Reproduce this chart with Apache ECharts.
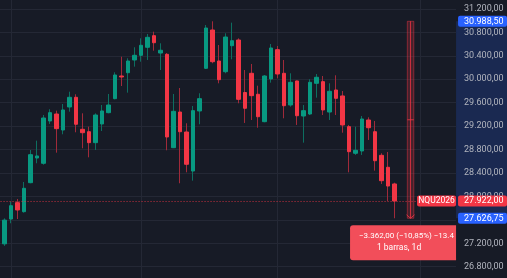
<!DOCTYPE html>
<html><head><meta charset="utf-8">
<script src="https://cdn.jsdelivr.net/npm/echarts@6/dist/echarts.min.js"></script>
<style>html,body{margin:0;padding:0;background:#171B26;}#c{width:507px;height:278px;}</style>
</head><body><div id="c"></div>
<script>
// ---- data (daily candles, NQU2026) ----
const opens  = [27190,27190,27614,27893,27739,28234,28655,28565,29287,29406,29133,29526,29691,29145,29104,28917,29236,29429,29668,30055,30111,30328,30408,30545,30743,30447,30425,28831,29440,29099,28433,29458,30186,30840,30311,30128,30572,30669,29773,30101,29743,29275,30004,30504,30101,29560,29970,29372,29406,29930,29958,29440,29816,29714,29190,28736,28775,29304,29104,28701,28497,28212];
const closes = [27325,27595,27841,27768,28138,28712,28690,29338,29429,29156,29475,29691,29231,29087,28917,29389,29458,29560,30072,30038,30311,30408,30579,30715,30623,30494,29014,29452,29104,28548,29463,29668,30874,30299,29992,30720,30657,29657,29504,29719,29360,30055,30533,30089,29548,29947,29377,29463,29947,30033,29475,29794,29674,29219,28763,28787,29321,29172,28609,28268,28177,27922];
const lows   = [27150,27155,27541,27614,27722,28224,28565,28541,29236,28746,29060,29446,29094,28821,28667,28792,29116,29418,29657,29884,29770,30214,30299,30328,30487,30157,28787,28825,28224,28411,28268,29231,30174,30272,29930,30101,30340,29589,29253,29304,29172,29265,29941,30016,29333,29531,29219,28917,29389,29685,29389,29304,29389,29087,28411,28707,28707,28963,28439,28212,27921,27626.75];
const highs  = [27360,27625,27910,27956,28246,28792,28951,29389,29487,29463,29577,29787,29743,29418,29190,29418,29560,29748,30118,30384,30357,30545,30698,30772,30811,30613,30447,29748,29850,29248,29543,29760,30925,30988.5,30584,30784,30965,30698,30157,30260,29889,30072,30601,30567,30328,30101,29975,29560,29999,30089,30055,29930,30067,29799,29219,29190,29372,29350,29287,28736,28758,28234];
const totalSlots = 71;                 // category slots incl. empty future space
const monthLineIdx = [2, 22, 43, 65];  // vertical grid lines (month starts)
const yMin = 26400, yMax = 31600, yStep = 400;
const symbolName = 'NQU2026';
const lastPrice = 27922;
const rangeTop = 30988.5, rangeBottom = 27626.75;
const rangeFromIdx = 63, rangeToIdx = 64;
const rangeLine1 = '\u22123.362,00 (\u221210,85%) \u221213.448';
const rangeLine2 = '1 barras, 1d';

// ---- styles ----
const UP = '#089981', DOWN = '#F23645', UPW = '#0d6e60', DOWNW = '#a02a3a';
const BG = '#171B26', GRID = '#242835', TXT = '#B2B5BE', BLUE = '#2962FF';
const FONT = 'Roboto';

function fmt(v){
  const s = Math.abs(v).toFixed(2).split('.');
  const ip = s[0].replace(/\B(?=(\d{3})+(?!\d))/g, '.');
  return (v < 0 ? '\u2212' : '') + ip + ',' + s[1];
}

const cats = Array.from({length: totalSlots}, (_, i) => String(i));
const wickData = opens.map((o, i) => [o, closes[i], lows[i], highs[i]]);
const bodyData = opens.map((o, i) => [o, closes[i], Math.min(o, closes[i]), Math.max(o, closes[i])]);

const slotW = 6.5;
const gridLeft = -5.45;
const pxPerUnit = 0.05859;
const gridTop = 8.9 - (yMax - 31200) * pxPerUnit;
const gridHeight = (yMax - yMin) * pxPerUnit;

const chart = echarts.init(document.getElementById('c'), null, {renderer: 'canvas'});
const option = {
  backgroundColor: BG,
  animation: false,
  grid: {left: gridLeft, top: gridTop, width: totalSlots * slotW, height: gridHeight, containLabel: false, outerBoundsMode: 'none'},
  xAxis: {
    type: 'category', data: cats, boundaryGap: true,
    axisLine: {show: false}, axisTick: {show: false}, axisLabel: {show: false}, splitLine: {show: false}
  },
  yAxis: {
    type: 'value', position: 'right', min: yMin, max: yMax, interval: yStep, scale: true,
    axisLine: {show: false}, axisTick: {show: false},
    splitLine: {show: true, lineStyle: {color: GRID, width: 1}},
    axisLabel: {color: TXT, fontSize: 9, fontFamily: FONT, margin: 8, formatter: v => fmt(v)}
  },
  series: [
    {
      type: 'candlestick', name: 'wick', data: wickData, barWidth: 1, z: 2,
      itemStyle: {color: UPW, color0: DOWNW, borderColor: UPW, borderColor0: DOWNW, borderWidth: 1},
      markLine: {
        silent: true, symbol: 'none', z: 1, animation: false,
        label: {show: false},
        lineStyle: {color: GRID, type: 'solid', width: 1},
        data: monthLineIdx.map(i => ({xAxis: i}))
      }
    },
    {
      type: 'candlestick', name: 'body', data: bodyData, barWidth: 4, z: 3,
      itemStyle: {color: UP, color0: DOWN, borderColor: UP, borderColor0: DOWN, borderWidth: 1},
      markLine: {
        silent: true, symbol: 'none', z: 4, animation: false,
        label: {show: false},
        lineStyle: {color: 'rgba(242,54,69,0.8)', type: [1, 2], width: 1},
        data: [{yAxis: lastPrice}]
      }
    }
  ]
};
chart.setOption(option);

const px = (i, v) => chart.convertToPixel({gridIndex: 0}, [i, v]);
const axisX = px(totalSlots - 1, lastPrice)[0] + (px(1, 0)[0] - px(0, 0)[0]) / 2;
const yTop = px(0, rangeTop)[1], yBot = px(0, rangeBottom)[1], yLast = px(0, lastPrice)[1];
const x0 = px(rangeFromIdx, rangeTop)[0], x1 = px(rangeToIdx, rangeTop)[0];
const cx = (x0 + x1) / 2, yMid = (yTop + yBot) / 2;
const W = 507;

// the range label is clipped by the price-axis column: keep only the visible prefix
const line1X = cx - 51.5;
const mctx = document.createElement('canvas').getContext('2d');
mctx.font = '8px ' + FONT;
let visible1 = rangeLine1;
while (visible1.length > 1 && mctx.measureText(visible1).width > axisX - line1X + 2) visible1 = visible1.slice(0, -1);

function tag(y, color, text){
  return [
    {type: 'rect', z: 20, shape: {x: axisX + 2, y: y - 5.5, width: W - axisX - 2, height: 11, r: 2}, style: {fill: color}},
    {type: 'text', z: 21, style: {x: axisX + 8, y: y, text: text, fill: '#fff', font: '9px ' + FONT, verticalAlign: 'middle', align: 'left'}}
  ];
}

const elements = [
  {type: 'rect', z: -1, shape: {x: axisX, y: yTop, width: W - axisX, height: yBot - yTop}, style: {fill: 'rgba(41,98,255,0.2)'}},
  {type: 'rect', z: 10, shape: {x: x0, y: yTop, width: x1 - x0, height: yBot - yTop}, style: {fill: 'rgba(242,54,69,0.22)', stroke: 'rgba(242,54,69,0.45)', lineWidth: 1}},
  {type: 'line', z: 11, shape: {x1: cx, y1: yTop, x2: cx, y2: yBot}, style: {stroke: 'rgba(242,54,69,0.8)', lineWidth: 1}},
  {type: 'line', z: 11, shape: {x1: x0, y1: yMid, x2: x1, y2: yMid}, style: {stroke: 'rgba(242,54,69,0.8)', lineWidth: 1}},
  {type: 'polyline', z: 11, shape: {points: [[cx - 4, yBot - 3.5], [cx, yBot], [cx + 4, yBot - 3.5]]}, style: {stroke: 'rgba(242,54,69,0.8)', lineWidth: 1, fill: null}},
  {type: 'rect', z: 12, shape: {x: cx - 60.5, y: yBot + 7, width: axisX - (cx - 60.5), height: 35, r: [3, 0, 0, 3]}, style: {fill: '#F24E5A'}},
  {type: 'text', z: 13, style: {x: line1X, y: yBot + 18, text: visible1, fill: '#fff', font: '8px ' + FONT, verticalAlign: 'middle', align: 'left'}},
  {type: 'text', z: 13, style: {x: cx - 11.5, y: yBot + 30, text: rangeLine2, fill: '#fff', font: '8.5px ' + FONT, verticalAlign: 'middle', align: 'center'}},
  {type: 'rect', z: 20, shape: {x: axisX - 39, y: yLast - 5.5, width: 39, height: 11, r: 2}, style: {fill: DOWN}},
  {type: 'text', z: 21, style: {x: axisX - 19.5, y: yLast, text: symbolName, fill: '#fff', font: '8.5px ' + FONT, verticalAlign: 'middle', align: 'center'}}
].concat(tag(yTop, BLUE, fmt(rangeTop)), tag(yLast, DOWN, fmt(lastPrice)), tag(yBot, BLUE, fmt(rangeBottom)));

chart.setOption({graphic: {elements: elements}});
</script>
</body></html>
